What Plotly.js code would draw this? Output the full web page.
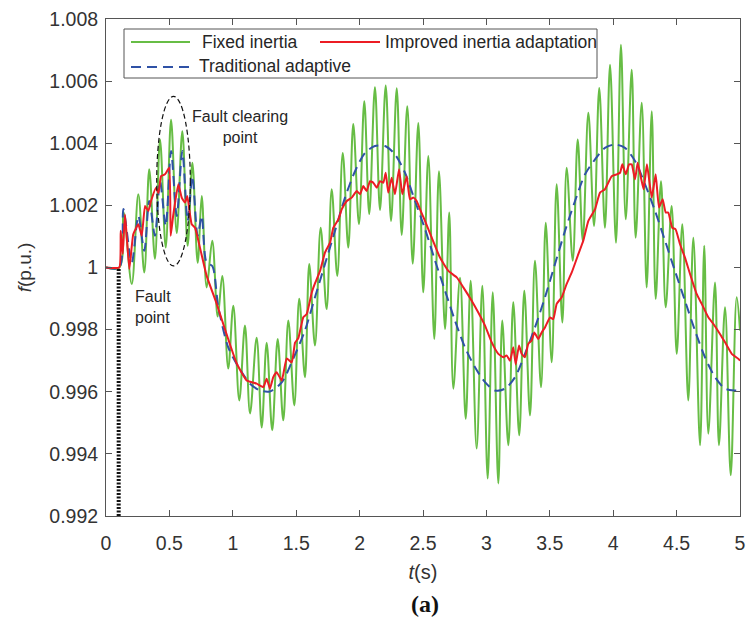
<!DOCTYPE html>
<html>
<head>
<meta charset="utf-8">
<script src="https://cdn.plot.ly/plotly-3.0.1.min.js"></script>
<style>
  html, body { margin: 0; padding: 0; background: #fff; }
  #chart { width: 752px; height: 620px; }
</style>
</head>
<body>
<div id="chart"></div>
<script>
// Frequency response after a fault: fixed inertia vs. adaptive inertia schemes.

// Time axis (s) and frequency (p.u.) for the fixed-inertia case
const tFixed = [0, 0.105, 0.138, 0.203, 0.255, 0.302, 0.341, 0.386, 0.426, 0.471,
  0.513, 0.558, 0.602, 0.644, 0.681, 0.723, 0.755, 0.794, 0.838, 0.881,
  0.917, 0.964, 1.004, 1.051, 1.096, 1.136, 1.188, 1.228, 1.267, 1.311,
  1.354, 1.398, 1.438, 1.485, 1.524, 1.569, 1.603, 1.648, 1.693, 1.74,
  1.78, 1.824, 1.867, 1.911, 1.95, 1.995, 2.037, 2.076, 2.121, 2.161,
  2.206, 2.248, 2.293, 2.332, 2.376, 2.419, 2.463, 2.502, 2.542, 2.589,
  2.626, 2.674, 2.707, 2.739, 2.792, 2.837, 2.876, 2.923, 2.968, 3.01,
  3.05, 3.094, 3.125, 3.173, 3.212, 3.259, 3.299, 3.344, 3.383, 3.431,
  3.468, 3.515, 3.554, 3.599, 3.633, 3.681, 3.72, 3.76, 3.804, 3.849,
  3.89, 3.935, 3.975, 4.022, 4.061, 4.099, 4.146, 4.177, 4.225, 4.264,
  4.304, 4.335, 4.377, 4.414, 4.461, 4.501, 4.545, 4.592, 4.632, 4.685,
  4.718, 4.75, 4.803, 4.834, 4.882, 4.927, 4.974, 5.0];
const fFixed = [1, 1, 1.00179, 0.99947, 1.00236, 0.99984, 1.00316, 1.00028, 1.00412, 1.00064,
  1.00476, 1.00111, 1.00439, 1.0007, 1.00337, 1.00015, 1.0023, 0.99936, 1.00086, 0.99842,
  0.99973, 0.99675, 0.99877, 0.99572, 0.99813, 0.9953, 0.99774, 0.99485, 0.99758, 0.99476,
  0.9977, 0.99508, 0.99829, 0.99556, 0.99899, 0.99647, 1.00011, 0.99749, 1.00128, 0.99866,
  1.00252, 0.99973, 1.00369, 1.00064, 1.00462, 1.0014, 1.00535, 1.00172, 1.0058, 1.00185,
  1.00586, 1.0015, 1.00577, 1.00105, 1.00519, 1.00012, 1.00465, 0.9992, 1.00359, 0.9977,
  1.0031, 0.99802, 1.00177, 0.9961, 0.99967, 0.99513, 0.99957, 0.99417, 0.99941, 0.99321,
  0.9992, 0.99305, 0.99829, 0.99428, 0.99888, 0.9946, 0.99925, 0.99524, 1.00022, 0.99615,
  1.00144, 0.99695, 1.00268, 0.99823, 1.00321, 1.00022, 1.00412, 1.00086, 1.00498, 1.00134,
  1.00578, 1.00128, 1.00653, 1.0008, 1.00717, 1.00155, 1.00637, 1.00096, 1.0053, 0.99936,
  1.00503, 0.99899, 1.00278, 0.99872, 1.00198, 0.99722, 1.00139, 0.99572, 1.00096, 0.99428,
  1.0007, 0.99465, 0.99952, 0.99428, 0.99872, 0.99331, 0.99904, 0.99797];

// Improved inertia adaptation
const tImproved = [0, 0.105, 0.116, 0.132, 0.15, 0.184, 0.215, 0.255, 0.282, 0.308,
  0.334, 0.355, 0.394, 0.414, 0.434, 0.465, 0.499, 0.51, 0.531, 0.57,
  0.597, 0.623, 0.641, 0.657, 0.676, 0.702, 0.741, 0.794, 0.873, 0.952,
  1.031, 1.11, 1.188, 1.241, 1.267, 1.293, 1.319, 1.346, 1.386, 1.425,
  1.465, 1.491, 1.517, 1.556, 1.583, 1.623, 1.648, 1.688, 1.727, 1.767,
  1.793, 1.833, 1.859, 1.899, 1.938, 1.977, 2.003, 2.029, 2.056, 2.082,
  2.108, 2.135, 2.161, 2.187, 2.206, 2.226, 2.253, 2.279, 2.311, 2.337,
  2.371, 2.397, 2.424, 2.45, 2.476, 2.516, 2.569, 2.634, 2.7, 2.766,
  2.818, 2.884, 2.936, 2.989, 3.042, 3.094, 3.133, 3.16, 3.186, 3.212,
  3.231, 3.257, 3.278, 3.304, 3.33, 3.357, 3.378, 3.409, 3.436, 3.462,
  3.502, 3.528, 3.554, 3.594, 3.633, 3.673, 3.725, 3.764, 3.804, 3.856,
  3.896, 3.935, 3.988, 4.028, 4.054, 4.072, 4.099, 4.125, 4.146, 4.172,
  4.193, 4.219, 4.24, 4.266, 4.304, 4.335, 4.361, 4.39, 4.414, 4.434,
  4.466, 4.492, 4.527, 4.566, 4.606, 4.658, 4.698, 4.75, 4.789, 4.842,
  4.882, 4.935, 4.987, 5.0];
const fImproved = [1, 1, 1.00118, 1.00044, 1.00171, 0.99995, 1.00107, 1.00139, 1.00102, 1.00198,
  1.00182, 1.00214, 1.00257, 1.0024, 1.00294, 1.003, 1.00321, 1.00102, 1.00171, 1.00268,
  1.00225, 1.00209, 1.0023, 1.00187, 1.00139, 1.00128, 1.00064, 0.99973, 0.99883, 0.99784,
  0.99691, 0.99636, 0.99626, 0.99615, 0.99642, 0.9961, 0.99647, 0.99663, 0.99636, 0.99707,
  0.99694, 0.99758, 0.99773, 0.9984, 0.9985, 0.9992, 0.99949, 0.99989, 1.00048, 1.0008,
  1.00128, 1.00155, 1.00187, 1.00214, 1.00225, 1.00246, 1.00236, 1.00262, 1.00246, 1.00278,
  1.00273, 1.00257, 1.00278, 1.00273, 1.00305, 1.00241, 1.00289, 1.00236, 1.00316, 1.00236,
  1.00294, 1.0022, 1.00225, 1.00214, 1.00188, 1.0015, 1.00096, 1.00032, 0.99989, 0.99968,
  0.99936, 0.99893, 0.99855, 0.99813, 0.99759, 0.99722, 0.99711, 0.99717, 0.997, 0.99743,
  0.99688, 0.99749, 0.99722, 0.99711, 0.99754, 0.99765, 0.99791, 0.9977, 0.99791, 0.99807,
  0.99839, 0.99834, 0.99883, 0.99904, 0.99947, 0.99984, 1.00043, 1.00086, 1.0015, 1.00187,
  1.00241, 1.00252, 1.00294, 1.003, 1.00305, 1.00332, 1.003, 1.00332, 1.00332, 1.00284,
  1.00337, 1.00289, 1.00252, 1.00332, 1.00225, 1.003, 1.00193, 1.0022, 1.00177, 1.00177,
  1.00128, 1.00123, 1.00075, 1.00032, 0.99979, 0.99915, 0.99883, 0.9984, 0.99819, 0.99786,
  0.99759, 0.99722, 0.99706, 0.997];

// Traditional adaptive inertia
const tTraditional = [0, 0.105, 0.137, 0.203, 0.255, 0.302, 0.341, 0.386, 0.426, 0.471,
  0.513, 0.558, 0.602, 0.644, 0.681, 0.723, 0.755, 0.794, 0.838, 0.886,
  0.964, 1.043, 1.136, 1.215, 1.293, 1.386, 1.477, 1.569, 1.648, 1.727,
  1.806, 1.885, 1.964, 2.043, 2.121, 2.2, 2.279, 2.358, 2.437, 2.516,
  2.595, 2.674, 2.752, 2.831, 2.91, 2.989, 3.068, 3.147, 3.226, 3.304,
  3.383, 3.462, 3.541, 3.62, 3.699, 3.778, 3.857, 3.935, 4.014, 4.093,
  4.172, 4.251, 4.33, 4.409, 4.487, 4.566, 4.645, 4.724, 4.803, 4.882,
  4.961, 5.0];
const fTraditional = [1, 1, 1.00188, 1.00015, 1.00166, 1.00054, 1.00214, 1.00102, 1.00278, 1.00134,
  1.00375, 1.00166, 1.00375, 1.0015, 1.00294, 1.00102, 1.00166, 1.00015, 1.00005, 0.99872,
  0.99743, 0.99681, 0.99626, 0.99604, 0.99601, 0.9963, 0.99707, 0.99797, 0.99904, 1.00011,
  1.00118, 1.00225, 1.0031, 1.00369, 1.00391, 1.00391, 1.00364, 1.00305, 1.00214, 1.00124,
  1.00022, 0.99925, 0.99829, 0.99743, 0.99679, 0.99631, 0.99604, 0.9961, 0.99647, 0.99722,
  0.99807, 0.99904, 1.00011, 1.00118, 1.00214, 1.003, 1.00348, 1.00385, 1.00396, 1.00385,
  1.00343, 1.00268, 1.00182, 1.00086, 0.99989, 0.99893, 0.99797, 0.99711, 0.99647, 0.9961,
  0.99604, 0.99604];

// Series names and axis ticks
const seriesNames = ['Fixed inertia', 'Improved inertia adaptation', 'Traditional adaptive'];
const xTicks = [0, 0.5, 1, 1.5, 2, 2.5, 3, 3.5, 4, 4.5, 5];
const xTickText = ['0', '0.5', '1', '1.5', '2', '2.5', '3', '3.5', '4', '4.5', '5'];
const yTicks = [0.992, 0.994, 0.996, 0.998, 1, 1.002, 1.004, 1.006, 1.008];
const yTickText = ['0.992', '0.994', '0.996', '0.998', '1', '1.002', '1.004', '1.006', '1.008'];

// Fault instant and fault-clearing region
const faultTime = 0.1;
const clearingT = [0.4, 0.665];
const clearingF = [1.00005, 1.00551];

const GREEN = '#67bd45';
const RED = '#ec1c24';
const BLUE = '#2f52a6';
const FONT = 'Liberation Sans, Arial, Helvetica, sans-serif';

// plot-area pixel box, used to place the hand-drawn legend and notes
const L = 106, R = 740, T = 19, B = 516;
const px = x => (x - L) / (R - L);
const py = y => (B - y) / (B - T);

const traces = [
  { x: tFixed, y: fFixed, name: seriesNames[0], mode: 'lines',
    line: { color: GREEN, width: 2, shape: 'spline', smoothing: 1 } },
  { x: tTraditional, y: fTraditional, name: seriesNames[2], mode: 'lines',
    line: { color: BLUE, width: 2, dash: '10px,6px', shape: 'spline', smoothing: 0.8 } },
  { x: tImproved, y: fImproved, name: seriesNames[1], mode: 'lines',
    line: { color: RED, width: 2, shape: 'spline', smoothing: 0.4 } }
];
traces.forEach(tr => { tr.showlegend = false; tr.hoverinfo = 'skip'; });

const axisCommon = {
  showgrid: false, zeroline: false, showline: true, linecolor: '#555', linewidth: 1,
  mirror: 'ticks', ticks: 'inside', ticklen: 6, tickcolor: '#555', tickwidth: 1,
  tickfont: { family: FONT, size: 19.5, color: '#333' }
};

const legendText = (x, y, text) => ({
  xref: 'paper', yref: 'paper', x: px(x), y: py(y), xanchor: 'left', yanchor: 'middle',
  text: text, showarrow: false, font: { family: FONT, size: 17.5, color: '#262626' }
});
const legendLine = (x0, x1, y, color, dash) => ({
  type: 'line', xref: 'paper', yref: 'paper', x0: px(x0), x1: px(x1), y0: py(y), y1: py(y),
  line: { color: color, width: 2, dash: dash || 'solid' }, layer: 'above'
});

const layout = {
  width: 752, height: 620,
  margin: { l: L, r: 752 - R, t: T, b: 620 - B },
  paper_bgcolor: '#fff', plot_bgcolor: '#fff',
  showlegend: false,
  xaxis: Object.assign({}, axisCommon, {
    range: [0, 5], tickvals: xTicks, ticktext: xTickText, ticklabelstandoff: 10,
    title: { text: '<i>t</i>(s)', font: { family: FONT, size: 20, color: '#333' }, standoff: 11 }
  }),
  yaxis: Object.assign({}, axisCommon, {
    range: [0.992, 1.008], tickvals: yTicks, ticktext: yTickText, ticklabelstandoff: 3,
    title: { text: '<i>f</i>(p.u.)', font: { family: FONT, size: 19, color: '#333' }, standoff: 12 }
  }),
  shapes: [
    // fault instant marker
    { type: 'line', xref: 'x', yref: 'y', x0: faultTime, x1: faultTime, y0: 0.992, y1: 1,
      line: { color: '#111', width: 4, dash: '2px,1.5px' } },
    // fault clearing region
    { type: 'circle', xref: 'x', yref: 'y', x0: clearingT[0], x1: clearingT[1],
      y0: clearingF[0], y1: clearingF[1], line: { color: '#111', width: 1.2, dash: '5px,3px' } },
    // legend frame and keys
    { type: 'rect', xref: 'paper', yref: 'paper', x0: px(124), x1: px(597), y0: py(78), y1: py(29),
      line: { color: '#555', width: 1 }, fillcolor: '#fff', layer: 'above' },
    legendLine(131, 190, 42, GREEN),
    legendLine(320, 380, 42, RED),
    legendLine(131, 189, 67, BLUE, '10px,6px')
  ],
  annotations: [
    legendText(200, 42, seriesNames[0]),
    legendText(383, 42, seriesNames[1]),
    legendText(197, 66, seriesNames[2]),
    { xref: 'paper', yref: 'paper', x: px(240), y: py(127), xanchor: 'center', yanchor: 'middle',
      text: 'Fault clearing<br>point', showarrow: false, align: 'center',
      font: { family: FONT, size: 16, color: '#262626' } },
    { xref: 'paper', yref: 'paper', x: px(133), y: py(307), xanchor: 'left', yanchor: 'middle',
      text: 'Fault<br>point', showarrow: false, align: 'left',
      font: { family: FONT, size: 16, color: '#262626' } },
    { xref: 'paper', yref: 'paper', x: px(425), y: py(604), xanchor: 'center', yanchor: 'middle',
      text: '<b>(a)</b>', showarrow: false,
      font: { family: 'Liberation Serif, Times New Roman, serif', size: 24, color: '#111' } }
  ]
};

Plotly.newPlot('chart', traces, layout, { staticPlot: true, displayModeBar: false });
</script>
</body>
</html>
